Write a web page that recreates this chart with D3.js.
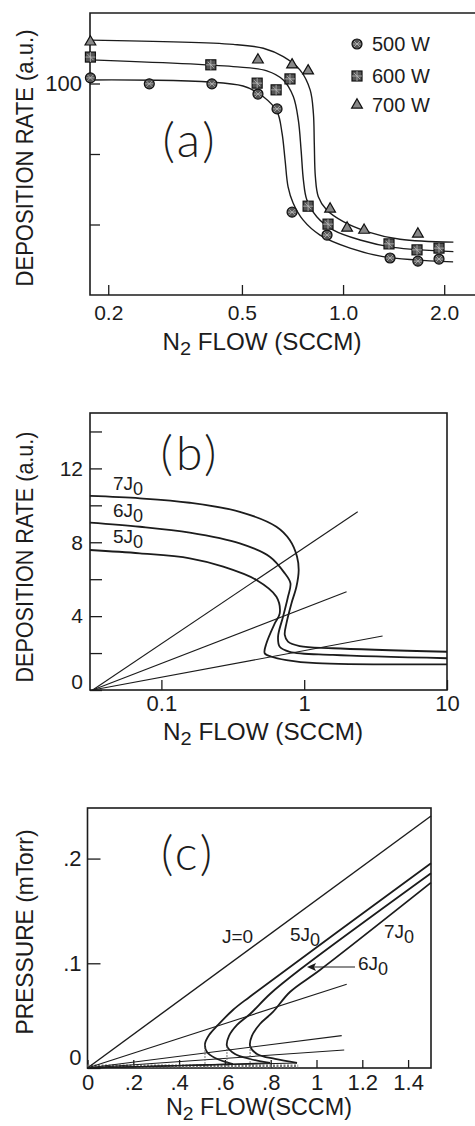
<!DOCTYPE html>
<html>
<head>
<meta charset="utf-8">
<script src="https://cdn.jsdelivr.net/npm/d3@7"></script>
<style>
  body { margin: 0; background: #fff; }
  svg { display: block; font-family: "Liberation Sans Narrow", "Liberation Sans", Arial, sans-serif; }
</style>
</head>
<body>
<script>
// ---- panel (a): measured deposition rate vs N2 flow ----
const flowA500 = [0.177, 0.265, 0.407, 0.558, 0.636, 0.705, 0.896, 1.38, 1.67, 1.93];
const rateA500 = [101.6, 99.9, 99.9, 97.0, 92.8, 63.5, 57.0, 50.5, 49.6, 50.2];
const flowA600 = [0.177, 0.404, 0.555, 0.632, 0.695, 0.787, 0.902, 1.37, 1.66, 1.93];
const rateA600 = [107.5, 105.3, 100.1, 98.2, 101.3, 65.2, 60.1, 54.5, 52.8, 53.3];
const flowA700 = [0.177, 0.558, 0.705, 0.787, 0.915, 1.028, 1.155, 1.67];
const rateA700 = [111.8, 106.7, 105.3, 103.6, 64.4, 59.0, 58.4, 57.3];

// hand drawn fits through the data
const fitFlow500 = [0.177, 0.504, 0.578, 0.636, 0.658, 0.672, 0.686, 0.710, 0.760, 0.854, 1.049, 1.315, 2.126];
const fitRate500 = [101.0, 99.3, 96.3, 92.0, 86.0, 78.3, 70.7, 66.1, 61.3, 57.0, 53.3, 50.9, 49.4];
const fitFlow600 = [0.177, 0.471, 0.593, 0.664, 0.711, 0.736, 0.750, 0.762, 0.780, 0.835, 0.936, 1.124, 1.412, 2.13];
const fitRate600 = [106.7, 104.8, 103.6, 101.0, 96.3, 89.6, 81.1, 72.6, 67.0, 62.2, 58.4, 55.6, 53.5, 52.3];
const fitFlow700 = [0.177, 0.471, 0.579, 0.664, 0.745, 0.798, 0.816, 0.821, 0.827, 0.844, 0.894, 1.002, 1.177, 1.478, 2.13];
const fitRate700 = [112.3, 111.1, 110.0, 107.6, 103.8, 98.2, 91.5, 83.0, 73.6, 67.9, 64.1, 60.8, 58.0, 55.8, 55.0];

const legendA = ["500 W", "600 W", "700 W"];
const ticksAx = [0.2, 0.5, 1, 2];
const ticksAxLabels = ["0.2", "0.5", "1.0", "2.0"];
const ticksAy = [60, 80, 100];

// ---- panel (b): model, log flow axis ----
const bFlow7 = [0.0316, 0.0707, 0.158, 0.354, 0.639, 0.792, 0.891, 0.915, 0.882, 0.814, 0.751, 0.731, 0.770, 0.930, 1.59, 10];
const bRate7 = [10.51, 10.38, 10.14, 9.65, 8.84, 8.12, 7.22, 6.50, 5.59, 4.69, 3.61, 2.98, 2.62, 2.38, 2.26, 2.07];
const bFlow6 = [0.0316, 0.0707, 0.158, 0.354, 0.574, 0.731, 0.801, 0.770, 0.711, 0.656, 0.674, 0.792, 1.59, 10];
const bRate6 = [9.06, 8.84, 8.52, 7.94, 7.22, 6.32, 5.78, 5.05, 3.97, 2.89, 2.34, 2.07, 1.90, 1.72];
const bFlow5 = [0.0316, 0.0707, 0.158, 0.271, 0.463, 0.639, 0.674, 0.622, 0.544, 0.529, 0.590, 0.751, 1.217, 10];
const bRate5 = [7.58, 7.40, 7.13, 6.68, 5.96, 5.05, 4.15, 3.61, 2.53, 1.99, 1.80, 1.62, 1.45, 1.39];
const bLineFlow = [2.37, 1.98, 3.54];   // ends of the straight load lines
const bLineRate = [9.65, 5.32, 2.92];
const bLabels = ["7", "6", "5"];
const ticksBx = [0.1, 1, 10];
const ticksBy = [0, 2, 4, 6, 8, 10, 12, 14];

// ---- panel (c): pressure vs flow ----
const cFlow5 = [0, 0.635, 0.557, 0.522, 0.513, 0.531, 0.570, 0.635, 0.709, 1.5];
const cPres5 = [0, 0.0038, 0.0096, 0.0153, 0.0229, 0.0315, 0.0411, 0.0554, 0.0681, 0.1955];
const cFlow6 = [0, 0.797, 0.710, 0.644, 0.609, 0.618, 0.653, 0.710, 0.797, 0.928, 1.5];
const cPres6 = [0, 0.0048, 0.0086, 0.0134, 0.0210, 0.0306, 0.0411, 0.0516, 0.0707, 0.0940, 0.186];
const cFlow7 = [0, 0.915, 0.819, 0.740, 0.710, 0.718, 0.753, 0.810, 0.884, 1.015, 1.5];
const cPres7 = [0, 0.0048, 0.0086, 0.0134, 0.0210, 0.0306, 0.0420, 0.0535, 0.0726, 0.0936, 0.177];
const cJ0Flow = [0, 1.5];
const cJ0Pres = [0, 0.2407];
const cLineFlow = [1.132, 1.11, 1.121];
const cLinePres = [0.080, 0.0309, 0.0172];
const ticksCx = [0, 0.2, 0.4, 0.6, 0.8, 1, 1.2, 1.4];
const ticksCxLabels = ["0", ".2", ".4", ".6", ".8", "1", "1.2", "1.4"];
const ticksCy = [0, 0.1, 0.2];
const ticksCyLabels = ["0", ".1", ".2"];

const ink = "#1c1c1c";
const zip = (xs, ys) => xs.map((x, i) => [x, ys[i]]);

const svg = d3.select("body").append("svg")
  .attr("width", 475)
  .attr("height", 1126);
svg.append("rect").attr("width", 475).attr("height", 1126).attr("fill", "#fff");

function styleAxis(g, fs) {
  g.select(".domain").remove();
  g.attr("font-family", null).attr("font-size", fs).attr("color", ink);
  g.selectAll("line").attr("stroke-width", 1.3);
}

function flowLabel(g, cx, base, len, txt) {
  const t = g.append("text")
    .attr("x", cx).attr("y", base)
    .attr("text-anchor", "middle")
    .attr("font-size", 23)
    .attr("fill", ink)
    .attr("textLength", len)
    .attr("lengthAdjust", "spacingAndGlyphs");
  t.append("tspan").text("N");
  t.append("tspan").attr("dy", 5).attr("font-size", 19).text("2");
  t.append("tspan").attr("dy", -5).text(txt);
}

function yLabel(g, x, cy, len, txt) {
  g.append("text")
    .attr("transform", `translate(${x},${cy}) rotate(-90)`)
    .attr("text-anchor", "middle")
    .attr("font-size", 24)
    .attr("fill", ink)
    .attr("textLength", len)
    .attr("lengthAdjust", "spacingAndGlyphs")
    .text(txt);
}

function panelTag(g, cx, base, txt) {
  g.append("text")
    .attr("x", cx).attr("y", base)
    .attr("text-anchor", "middle")
    .attr("font-family", "Lato, 'Liberation Sans', sans-serif")
    .attr("font-weight", 300)
    .attr("font-size", 48)
    .attr("letter-spacing", 3)
    .attr("fill", ink)
    .text(txt);
}

function jLabel(g, x, y, n, fs) {
  const t = g.append("text").attr("x", x).attr("y", y)
    .attr("font-size", fs).attr("fill", ink);
  t.append("tspan").text(n + "J");
  t.append("tspan").attr("dy", 5).attr("font-size", fs * 0.95).text("0");
}

// ================= (a) =================
const xA = d3.scaleLog().domain([0.1765, 2.47]).range([90, 475]);
const yA = d3.scaleLinear().domain([40, 120]).range([295, 13]);
const gA = svg.append("g");

gA.append("path")
  .attr("d", `M${xA.range()[1] + 5},${yA(120)}H${xA(0.1765)}V${yA(40)}H${xA.range()[1] + 5}`)
  .attr("fill", "none").attr("stroke", ink).attr("stroke-width", 1.6);

gA.append("g").attr("transform", `translate(0,${yA(40)})`)
  .call(d3.axisBottom(xA).tickValues(ticksAx).tickFormat((d, i) => ticksAxLabels[i])
    .tickSize(-10).tickPadding(10))
  .call(g => styleAxis(g, 21));
gA.append("g").attr("transform", `translate(${xA(0.1765)},0)`)
  .call(d3.axisLeft(yA).tickValues(ticksAy).tickFormat(d => d === 100 ? "100" : "")
    .tickSize(-10).tickPadding(8))
  .call(g => styleAxis(g, 22));

const lineA = d3.line().x(d => xA(d[0])).y(d => yA(d[1])).curve(d3.curveCatmullRom.alpha(0.5));
[[fitFlow500, fitRate500], [fitFlow600, fitRate600], [fitFlow700, fitRate700]].forEach(([f, r]) => {
  gA.append("path").attr("d", lineA(zip(f, r)))
    .attr("fill", "none").attr("stroke", ink).attr("stroke-width", 1.4);
});

function drawMarker(g, kind, x, y) {
  const m = g.append("g").attr("transform", `translate(${x},${y})`);
  if (kind === 0) {
    m.append("circle").attr("r", 5).attr("fill", "#555").attr("stroke", "#111").attr("stroke-width", 1.2);
    m.append("path").attr("d", "M-3,-3L3,3M-3,3L3,-3M-4,0H4").attr("stroke", "#bbb").attr("stroke-width", 0.8);
  } else if (kind === 1) {
    m.append("rect").attr("x", -5).attr("y", -5).attr("width", 10).attr("height", 10)
      .attr("fill", "#555").attr("stroke", "#111").attr("stroke-width", 1.2);
    m.append("path").attr("d", "M-5,0H5M0,-5V5M-3,-3L3,3").attr("stroke", "#bbb").attr("stroke-width", 0.8);
  } else {
    m.append("path").attr("d", d3.symbol(d3.symbolTriangle, 50)())
      .attr("fill", "#888").attr("stroke", "#111").attr("stroke-width", 1.2);
  }
}

[[flowA500, rateA500], [flowA600, rateA600], [flowA700, rateA700]].forEach(([f, r], k) => {
  zip(f, r).forEach(d => drawMarker(gA, k, xA(d[0]), yA(d[1])));
});

legendA.forEach((txt, i) => {
  const y = [44, 76, 105][i];
  drawMarker(gA, i, 357, y);
  gA.append("text").attr("x", 372).attr("y", y + 7)
    .attr("font-size", 20).attr("fill", ink).text(txt);
});

panelTag(gA, 190, 157, "(a)");
flowLabel(gA, 262, 350, 199, " FLOW (SCCM)");
yLabel(gA, 33, 158, 257, "DEPOSITION RATE (a.u.)");

// ================= (b) =================
const xB = d3.scaleLog().domain([Math.pow(10, -1.5), 10]).range([90, 447]);
const yB = d3.scaleLinear().domain([0, 15]).range([690, 413]);
const gB = svg.append("g");

gB.append("rect")
  .attr("x", xB.range()[0]).attr("y", yB.range()[1])
  .attr("width", xB.range()[1] - xB.range()[0]).attr("height", yB.range()[0] - yB.range()[1])
  .attr("fill", "none").attr("stroke", ink).attr("stroke-width", 1.6);

gB.append("g").attr("transform", `translate(0,${yB(0)})`)
  .call(d3.axisBottom(xB).tickValues(ticksBx).tickFormat(d => d < 1 ? "0.1" : String(d))
    .tickSize(-10).tickPadding(5))
  .call(g => styleAxis(g, 22));
gB.append("g").attr("transform", `translate(${xB.range()[0]},0)`)
  .call(d3.axisLeft(yB).tickValues(ticksBy).tickFormat(d => d % 4 === 0 ? d : "")
    .tickSize(-12).tickPadding(7))
  .call(g => styleAxis(g, 21))
  .call(g => g.selectAll(".tick").filter(d => d === 0).select("text").attr("y", -8));

const lineB = d3.line().x(d => xB(d[0])).y(d => yB(d[1]));
zip(bLineFlow, bLineRate).forEach(end => {
  gB.append("path").attr("d", lineB([[0.033, 0], end]))
    .attr("fill", "none").attr("stroke", ink).attr("stroke-width", 1.1);
});
const curveB = lineB.curve(d3.curveCatmullRom.alpha(0.5));
[[bFlow7, bRate7], [bFlow6, bRate6], [bFlow5, bRate5]].forEach(([f, r]) => {
  gB.append("path").attr("d", curveB(zip(f, r)))
    .attr("fill", "none").attr("stroke", ink).attr("stroke-width", 1.8);
});

bLabels.forEach((n, i) => jLabel(gB, 113, [490, 517, 543][i], n, 19));
panelTag(gB, 190, 470, "(b)");
flowLabel(gB, 263, 740, 200, " FLOW (SCCM)");
yLabel(gB, 33, 557, 251, "DEPOSITION RATE (a.u.)");

// ================= (c) =================
const xC = d3.scaleLinear().domain([0, 1.5]).range([87.5, 431]);
const yC = d3.scaleLinear().domain([0, 0.2483]).range([1068, 808]);
const gC = svg.append("g");

gC.append("rect")
  .attr("x", xC.range()[0]).attr("y", yC.range()[1])
  .attr("width", xC.range()[1] - xC.range()[0]).attr("height", yC.range()[0] - yC.range()[1])
  .attr("fill", "none").attr("stroke", ink).attr("stroke-width", 1.6);

gC.append("g").attr("transform", `translate(0,${yC(0)})`)
  .call(d3.axisBottom(xC).tickValues(ticksCx).tickFormat((d, i) => ticksCxLabels[i])
    .tickSize(-8).tickPadding(6))
  .call(g => styleAxis(g, 22));
gC.append("g").attr("transform", `translate(${xC.range()[0]},0)`)
  .call(d3.axisLeft(yC).tickValues(ticksCy).tickFormat((d, i) => ticksCyLabels[i])
    .tickSize(-13).tickPadding(6))
  .call(g => styleAxis(g, 22))
  .call(g => g.selectAll(".tick").filter(d => d === 0).select("text").attr("y", -11));

// grey hatched band along the zero line
gC.append("line")
  .attr("x1", xC(0)).attr("x2", xC(0.92)).attr("y1", yC(0) - 2).attr("y2", yC(0) - 2)
  .attr("stroke", "#777").attr("stroke-width", 3).attr("stroke-dasharray", "2,1.5");

const lineC = d3.line().x(d => xC(d[0])).y(d => yC(d[1]));
gC.append("path").attr("d", lineC(zip(cJ0Flow, cJ0Pres)))
  .attr("fill", "none").attr("stroke", ink).attr("stroke-width", 1.4);
zip(cLineFlow, cLinePres).forEach(end => {
  gC.append("path").attr("d", lineC([[0, 0], end]))
    .attr("fill", "none").attr("stroke", ink).attr("stroke-width", 1.1);
});

const curveC = d3.line().x(d => xC(d[0])).y(d => yC(d[1])).curve(d3.curveCatmullRom.alpha(0.5));
[[cFlow5, cPres5], [cFlow6, cPres6], [cFlow7, cPres7]].forEach(([f, p]) => {
  const pts = zip(f, p);
  // low branch back to origin is straight, the nose is smooth
  gC.append("path").attr("d", lineC(pts.slice(0, 2)))
    .attr("fill", "none").attr("stroke", ink).attr("stroke-width", 1.1);
  gC.append("path").attr("d", curveC(pts.slice(1)))
    .attr("fill", "none").attr("stroke", ink).attr("stroke-width", 1.8);
  // faint drop line under the nose
  const nose = pts.slice(1).reduce((a, b) => (b[0] < a[0] ? b : a));
  gC.append("line")
    .attr("x1", xC(nose[0])).attr("x2", xC(nose[0]))
    .attr("y1", yC(nose[1])).attr("y2", yC(0))
    .attr("stroke", "#555").attr("stroke-width", 0.8).attr("stroke-dasharray", "2,1");
});

gC.append("text").attr("x", 222).attr("y", 943)
  .attr("font-size", 19).attr("fill", ink).text("J=0");
jLabel(gC, 290, 941, "5", 19);
jLabel(gC, 384, 938, "7", 19);
jLabel(gC, 358, 970, "6", 19);
gC.append("line").attr("x1", 355).attr("x2", 310).attr("y1", 967).attr("y2", 967)
  .attr("stroke", ink).attr("stroke-width", 1.2);
gC.append("path").attr("d", "M307,967L316,963L314,967L316,971Z").attr("fill", ink);

panelTag(gC, 188, 870, "(c)");
flowLabel(gC, 259, 1115, 186, " FLOW(SCCM)");
yLabel(gC, 33, 932, 205, "PRESSURE (mTorr)");
</script>
</body>
</html>
